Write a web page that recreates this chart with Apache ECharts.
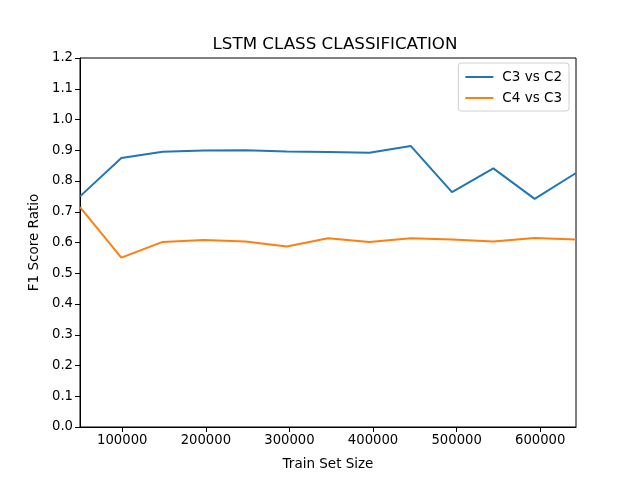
<!DOCTYPE html>
<html>
<head>
<meta charset="utf-8">
<script src="https://cdn.jsdelivr.net/npm/echarts@6/dist/echarts.min.js"></script>
<style>
  html, body { margin: 0; padding: 0; background: #fff; }
  #chart { width: 640px; height: 480px; }
</style>
</head>
<body>
<div id="chart"></div>
<script>
// train set sizes (13 steps)
const trainSizes = [49446, 98892, 148338, 197784, 247230, 296676, 346122,
  395568, 445014, 494460, 543906, 593352, 642800]
const c3vsC2 = [0.750, 0.875, 0.895, 0.899, 0.900, 0.896, 0.894, 0.892, 0.914, 0.764, 0.841, 0.742, 0.826]
const c4vsC3 = [0.715, 0.551, 0.602, 0.608, 0.603, 0.587, 0.614, 0.602, 0.614, 0.610, 0.603, 0.615, 0.610]
const xTicks = [100000, 200000, 300000, 400000, 500000, 600000]

const font = 'DejaVu Sans'
const toPairs = (ys) => trainSizes.map((x, i) => [x, ys[i]])

const myEcharts = echarts.init(document.getElementById('chart'))
myEcharts.setOption({
  animation: false,
  backgroundColor: '#fff',
  title: {
    text: 'LSTM CLASS CLASSIFICATION',
    left: 330, top: 31, textAlign: 'center',
    textStyle: { fontFamily: font, fontSize: 16.7, fontWeight: 'normal', color: '#000' },
  },
  legend: {
    orient: 'vertical',
    right: 71, top: 63,
    padding: [7, 7, 6, 7],
    itemGap: 7,
    itemWidth: 28, itemHeight: 2,
    icon: 'rect',
    borderColor: '#d0d0d0', borderWidth: 1, borderRadius: 3,
    textStyle: { fontFamily: font, fontSize: 13.5, color: '#000', padding: [0, 0, 0, 4] },
    data: ['C3 vs C2', 'C4 vs C3'],
  },
  grid: {
    left: 80, right: 64, top: 58, bottom: 53,
    show: true, borderColor: '#000', borderWidth: 1,
  },
  xAxis: {
    type: 'value',
    min: trainSizes[0], max: trainSizes[trainSizes.length - 1],
    name: 'Train Set Size', nameLocation: 'middle', nameGap: 30,
    nameTextStyle: { fontFamily: font, fontSize: 13.5, color: '#000' },
    axisLine: { show: true, lineStyle: { color: '#000', width: 1 } },
    axisTick: { show: true, length: 5, customValues: xTicks, lineStyle: { color: '#000' } },
    axisLabel: {
      customValues: xTicks, fontFamily: font, fontSize: 13.2, color: '#000', margin: 7,
      formatter: (v) => String(v),
    },
    splitLine: { show: false },
  },
  yAxis: {
    type: 'value',
    min: 0, max: 1.2, interval: 0.1,
    name: 'F1 Score Ratio', nameLocation: 'middle', nameGap: 37,
    nameTextStyle: { fontFamily: font, fontSize: 13.5, color: '#000' },
    axisLine: { show: true, lineStyle: { color: '#000', width: 1 } },
    axisTick: { show: true, length: 5, lineStyle: { color: '#000' } },
    axisLabel: {
      fontFamily: font, fontSize: 13.2, color: '#000', margin: 7,
      formatter: (v) => v.toFixed(1),
    },
    splitLine: { show: false },
  },
  series: [
    {
      name: 'C3 vs C2', type: 'line', data: toPairs(c3vsC2),
      symbol: 'none', color: '#1f77b4', lineStyle: { width: 2 },
    },
    {
      name: 'C4 vs C3', type: 'line', data: toPairs(c4vsC3),
      symbol: 'none', color: '#ff7f0e', lineStyle: { width: 2 },
    },
  ],
})
</script>
</body>
</html>
